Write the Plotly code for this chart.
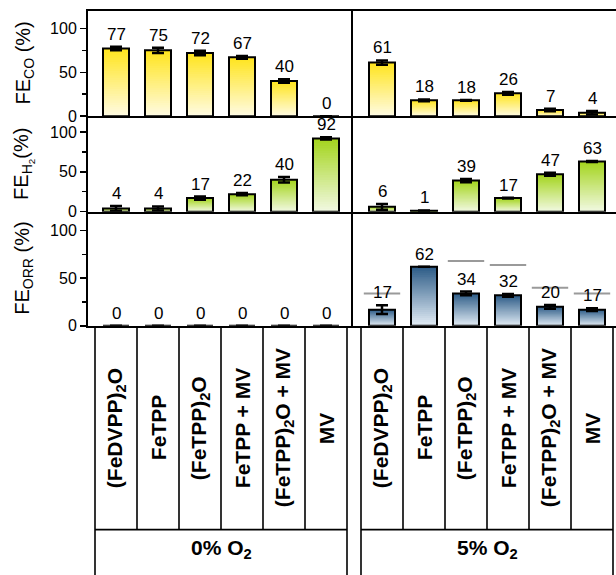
import plotly.graph_objects as go

# ---------------- data ----------------
categories = ["(FeDVPP)<sub>2</sub>O", "FeTPP", "(FeTPP)<sub>2</sub>O", "FeTPP + MV",
              "(FeTPP)<sub>2</sub>O + MV", "MV"]
groups = ["0% O<sub>2</sub>", "5% O<sub>2</sub>"]

fe_co_0 = [77, 75, 72, 67, 40, 0]
fe_co_0_err = [2, 3, 2.5, 1.5, 2, 0]
fe_co_5 = [61, 18, 18, 26, 7, 4]
fe_co_5_err = [2.5, 1, 0.5, 1.5, 1.5, 2]

fe_h2_0 = [4, 4, 17, 22, 40, 92]
fe_h2_0_err = [3, 2.5, 2, 1.5, 3.5, 1.5]
fe_h2_5 = [6, 1, 39, 17, 47, 63]
fe_h2_5_err = [3.5, 0.5, 2, 0.5, 2, 0.5]

fe_orr_0 = [0, 0, 0, 0, 0, 0]
fe_orr_0_err = [0, 0, 0, 0, 0, 0]
fe_orr_5 = [17, 62, 34, 32, 20, 17]
fe_orr_5_err = [4.5, 0, 2, 1.5, 2, 1.5]
fe_orr_5_ref = [34, None, 68, 64, 40, 34]

y_tick_vals = [0, 50, 100]
row_titles = ["FE<sub>CO</sub> (%)", "FE<sub>H<sub>2</sub></sub>(%)", "FE<sub>ORR</sub> (%)"]

# ---------------- styling ----------------
W, H = 616, 575
FONT = "Liberation Sans"


def px_x(px):
    return px / W


def px_y(py):
    return 1 - py / H


row_px = [(11, 118), (118, 215), (215, 331)]      # top, bottom (px)
col_px = [(88, 353), (353, 616)]                  # left, right (px)
centers0 = [116, 382]                             # px of first category centre
SPACING = 42.0                                    # px between category centres
x_ranges = []
for (l, r), c0 in zip(col_px, centers0):
    r0 = (l - c0) / SPACING
    x_ranges.append([r0, r0 + (r - l) / SPACING])

row_colors = [("#FFE41C", "#FFFBE3"), ("#A3D41B", "#F2F9E3"), ("#2C5B86", "#E3EDF6")]
BAR_W = 0.62
N_SLICES = 30


def hex2rgb(h):
    h = h.lstrip("#")
    return tuple(int(h[i:i + 2], 16) for i in (0, 2, 4))


def mix(c_top, c_bot, t):
    a, b = hex2rgb(c_top), hex2rgb(c_bot)
    return "rgb(%d,%d,%d)" % tuple(round(b[i] + (a[i] - b[i]) * t) for i in range(3))


panels = [
    [(fe_co_0, fe_co_0_err), (fe_co_5, fe_co_5_err)],
    [(fe_h2_0, fe_h2_0_err), (fe_h2_5, fe_h2_5_err)],
    [(fe_orr_0, fe_orr_0_err), (fe_orr_5, fe_orr_5_err)],
]

xs = list(range(len(categories)))
fig = go.Figure()
annotations = []
shapes = []
layout_axes = {}

for r in range(3):
    for c in range(2):
        n = r * 2 + c + 1
        xid = "x" if n == 1 else "x%d" % n
        yid = "y" if n == 1 else "y%d" % n
        vals, errs = panels[r][c]
        top_c, bot_c = row_colors[r]
        # gradient fill built from overlapping bar slices
        for k in range(N_SLICES):
            frac = k / N_SLICES
            fig.add_trace(go.Bar(
                x=xs, y=[v * (1 - frac) for v in vals], base=[v * frac for v in vals],
                width=BAR_W, marker=dict(color=mix(top_c, bot_c, (k + 0.5) / N_SLICES), line=dict(width=0)),
                xaxis=xid, yaxis=yid, hoverinfo="skip", showlegend=False))
        # outline + error bars
        fig.add_trace(go.Bar(
            x=xs, y=vals, width=BAR_W,
            marker=dict(color="rgba(0,0,0,0)", line=dict(color="black", width=2)),
            error_y=dict(type="data", array=errs, color="black", thickness=2.5, width=6),
            xaxis=xid, yaxis=yid, showlegend=False))
        if r == 2 and c == 1:
            fig.add_trace(go.Scatter(
                x=xs, y=fe_orr_5_ref, mode="markers",
                marker=dict(symbol="line-ew", size=26, line=dict(width=2, color="#9A9A9A")),
                xaxis=xid, yaxis=yid, showlegend=False))
        # value labels
        for i, (v, e) in enumerate(zip(vals, errs)):
            annotations.append(dict(
                x=i, y=v + e, xref=xid, yref=yid, text=str(v), showarrow=False,
                yanchor="bottom", yshift=1, font=dict(family=FONT, size=17, color="black")))

        top, bot = row_px[r]
        left, right = col_px[c]
        layout_axes["xaxis" if n == 1 else "xaxis%d" % n] = dict(
            domain=[px_x(left), px_x(right)], anchor=yid, range=x_ranges[c],
            showticklabels=False, ticks="", showgrid=False, zeroline=False,
            showline=True, linecolor="black", linewidth=2, mirror=(r == 0))
        ycfg = dict(
            domain=[px_y(bot), px_y(top)], anchor=xid, range=[0, 120],
            showgrid=False, zeroline=False, showline=True, linecolor="black", linewidth=2)
        if c == 0:
            ycfg.update(tickvals=y_tick_vals, ticks="outside", ticklen=6, tickwidth=1.5,
                        tickcolor="black", tickfont=dict(family=FONT, size=16, color="black"),
                        minor=dict(dtick=25, tick0=0, ticks="outside", ticklen=4,
                                   tickwidth=1.5, tickcolor="black"))
        else:
            ycfg.update(showticklabels=False, ticks="")
        layout_axes["yaxis" if n == 1 else "yaxis%d" % n] = ycfg

    # row title
    top, bot = row_px[r]
    annotations.append(dict(
        x=px_x(24), y=px_y((top + bot) / 2), xref="paper", yref="paper", text=row_titles[r],
        textangle=-90, showarrow=False, xanchor="center", yanchor="middle",
        font=dict(family=FONT, size=20, color="black")))

# ---------------- category table below ----------------
y_top = px_y(332)
y_mid = px_y(538)
y_bot = -0.05
line = dict(color="black", width=1.6)
for c, xid in enumerate(["x5", "x6"]):
    lo, hi = xs[0] - 0.5, xs[-1] + 0.5
    shapes.append(dict(type="line", xref=xid, yref="paper", x0=lo, x1=hi, y0=y_top, y1=y_top, line=line))
    shapes.append(dict(type="line", xref=xid, yref="paper", x0=lo, x1=hi, y0=y_mid, y1=y_mid, line=line))
    shapes.append(dict(type="line", xref=xid, yref="paper", x0=lo, x1=lo, y0=y_top, y1=y_bot, line=line))
    shapes.append(dict(type="line", xref=xid, yref="paper", x0=hi, x1=hi, y0=y_top, y1=y_bot, line=line))
    for i in xs[:-1]:
        shapes.append(dict(type="line", xref=xid, yref="paper", x0=i + 0.5, x1=i + 0.5,
                           y0=y_top, y1=y_mid, line=line))
    for i, cat in enumerate(categories):
        annotations.append(dict(
            x=i, y=(y_top + y_mid) / 2, xref=xid, yref="paper", text="<b>%s</b>" % cat,
            textangle=-90, showarrow=False, xanchor="center", yanchor="middle",
            font=dict(family=FONT, size=21, color="black")))
    annotations.append(dict(
        x=(xs[0] + xs[-1]) / 2, y=px_y(558), xref=xid, yref="paper", text="<b>%s</b>" % groups[c],
        showarrow=False, xanchor="center", yanchor="middle",
        font=dict(family=FONT, size=21, color="black")))

fig.update_layout(
    width=W, height=H, margin=dict(l=0, r=0, t=0, b=0),
    paper_bgcolor="white", plot_bgcolor="white",
    barmode="overlay", showlegend=False, hovermode=False,
    annotations=annotations, shapes=shapes,
    **layout_axes)

fig.write_html(
    "out.html",
    config={"displayModeBar": False, "staticPlot": True},
    post_script="document.body.style.margin='0';document.body.style.padding='0';"
                "document.documentElement.style.overflow='hidden';")
